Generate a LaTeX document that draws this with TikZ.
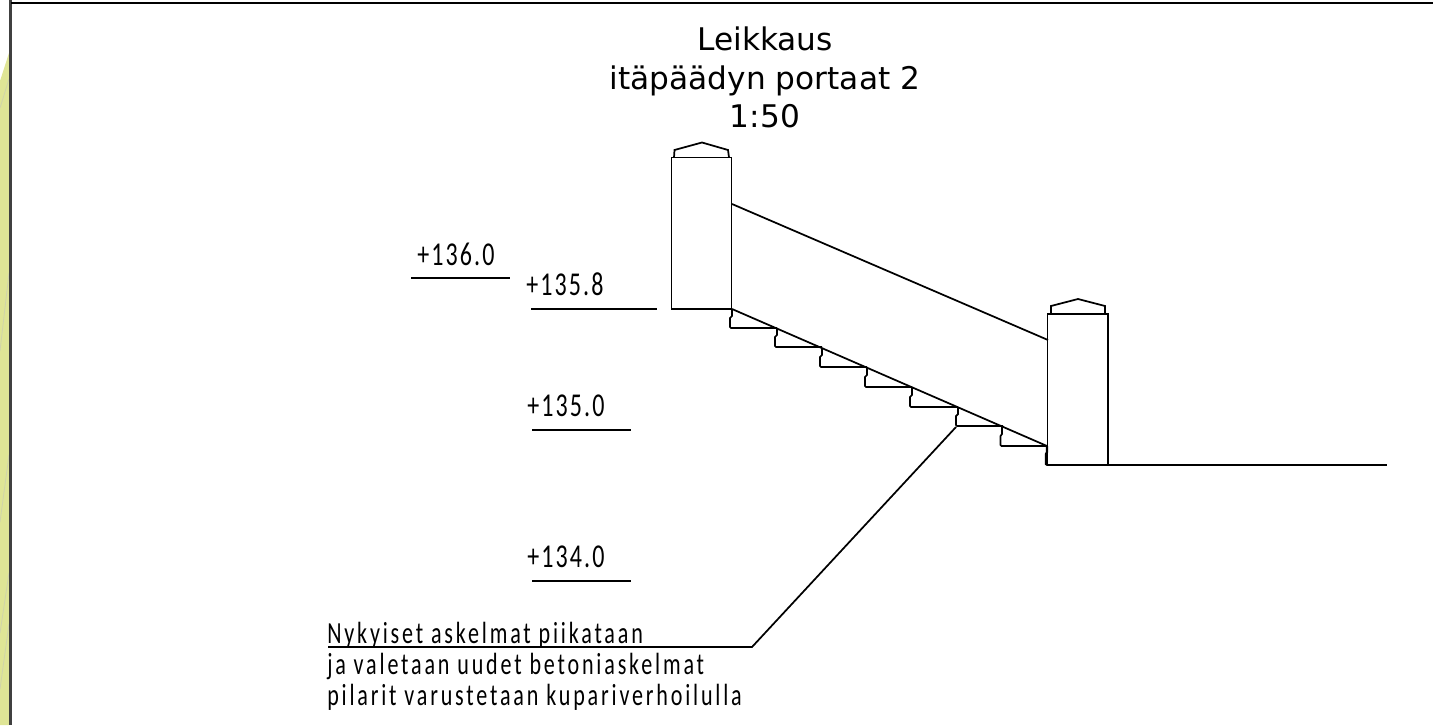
\documentclass[tikz,border=0pt]{standalone}
\usepackage{fontspec}
\usepackage{tikz}
\setmainfont{DejaVu Sans}
\newfontfamily\levelfont[FakeStretch=0.72,LetterSpace=6.3]{Carlito}
\newfontfamily\notefont[FakeStretch=0.72,LetterSpace=9.2]{Carlito}
\definecolor{stripyellow}{RGB}{223,229,150}
\definecolor{stripstreak}{RGB}{208,212,170}
\tikzset{
  linework/.style={line width=1.3pt,color=black},
  levelline/.style={line width=1.2pt,color=black},
  leveltext/.style={anchor=base west,inner sep=0pt,font=\levelfont\fontsize{25}{25}\selectfont},
  notetext/.style={anchor=base west,inner sep=0pt,font=\notefont\fontsize{23}{23}\selectfont},
  titletext/.style={anchor=base,inner sep=0pt,font=\fontsize{23.4}{23.4}\selectfont},
}
\begin{document}
\begin{tikzpicture}[x=0.75pt,y=0.75pt,yscale=-1,xscale=1]
        \useasboundingbox (0,0) rectangle (1433,725);

        %Shape: Strip at the left edge
        \fill [stripyellow] (0,81) -- (9,53) -- (9,725) -- (0,725) -- cycle ;
        \foreach \ya/\yb in {108/79,351/273,522/455,633/573,689/624}
            \draw [stripstreak,line width=0.6pt] (0,\ya) -- (9,\yb) ;
        %Straight Lines: sheet frame
        \draw [color=black!75,line width=2.2pt] (10.5,0) -- (10.5,725) ;
        \draw [color=black,line width=1.6pt] (11,3) -- (1433,3) ;

        %Shape: upper post
        \draw [linework] (671.5,157.5) rectangle (731.5,309) ;
        \draw [linework] (674,157.5) -- (674.5,150) -- (702,142.5) -- (728,150) -- (729,157.5) ;
        %Shape: lower post
        \draw [linework] (1047.5,314) rectangle (1108,465) ;
        \draw [linework] (1051,314) -- (1051,306) -- (1078,299) -- (1105,306) -- (1105,314) ;

        %Straight Lines: rail and stringer
        \draw [linework] (732,204) -- (1048,340) ;
        \draw [linework] (732,309) -- (1047,446) ;
        %Straight Lines: ground
        \draw [linework] (1047,465) -- (1387,465) ;
        \draw [linework,line width=1.7pt] (1047,446) -- (1047,452) -- (1046,454) -- (1046,464) -- (1047.5,465) ;

        %Shape: steps
        \foreach \xa/\ya/\xb in {732/309/730,777/328/775,822/348/820,867/368/865,912/388/910,958/407/956,1002/427/1000.5}{
            \draw [linework] (\xa,\ya) -- (\xa,\ya+7) -- (\xb,\ya+9) -- (\xb,\ya+18) -- (\xb+1,\ya+19) -- (\xb+47,\ya+19) ;
        }

        %Straight Lines: leader
        \coordinate (leadstep) at (956,427) ;
        \coordinate (leadknee) at (752,647) ;
        \coordinate (leadend) at (328,647) ;
        \draw [linework] (leadstep) -- (leadknee) -- (leadend) ;

        %Straight Lines: levels
        \draw [levelline] (411,278) -- (510,278) ;
        \draw [levelline] (531,309) -- (657,309) ;
        \draw [levelline] (532,430) -- (631,430) ;
        \draw [levelline] (532,581) -- (631,581) ;

        % Text Node
        \draw (765,50) node (titleone) [titletext] {Leikkaus};
        % Text Node
        \draw (765,89) node (titletwo) [titletext] {itäpäädyn portaat 2};
        % Text Node
        \draw (765,127) node (titlescale) [titletext] {1:50};
        % Text Node
        \draw (417,265) node (levelA) [leveltext] {+136.0};
        % Text Node
        \draw (526,295) node (levelB) [leveltext] {+135.8};
        % Text Node
        \draw (527,416) node (levelC) [leveltext] {+135.0};
        % Text Node
        \draw (527,567) node (levelD) [leveltext] {+134.0};
        % Text Node
        \draw (327,643) node (noteone) [notetext] {Nykyiset askelmat piikataan};
        % Text Node
        \draw (327,674) node (notetwo) [notetext] {ja valetaan uudet betoniaskelmat};
        % Text Node
        \draw (327,705) node (notethree) [notetext] {pilarit varustetaan kupariverhoilulla};
\end{tikzpicture}
\end{document}
